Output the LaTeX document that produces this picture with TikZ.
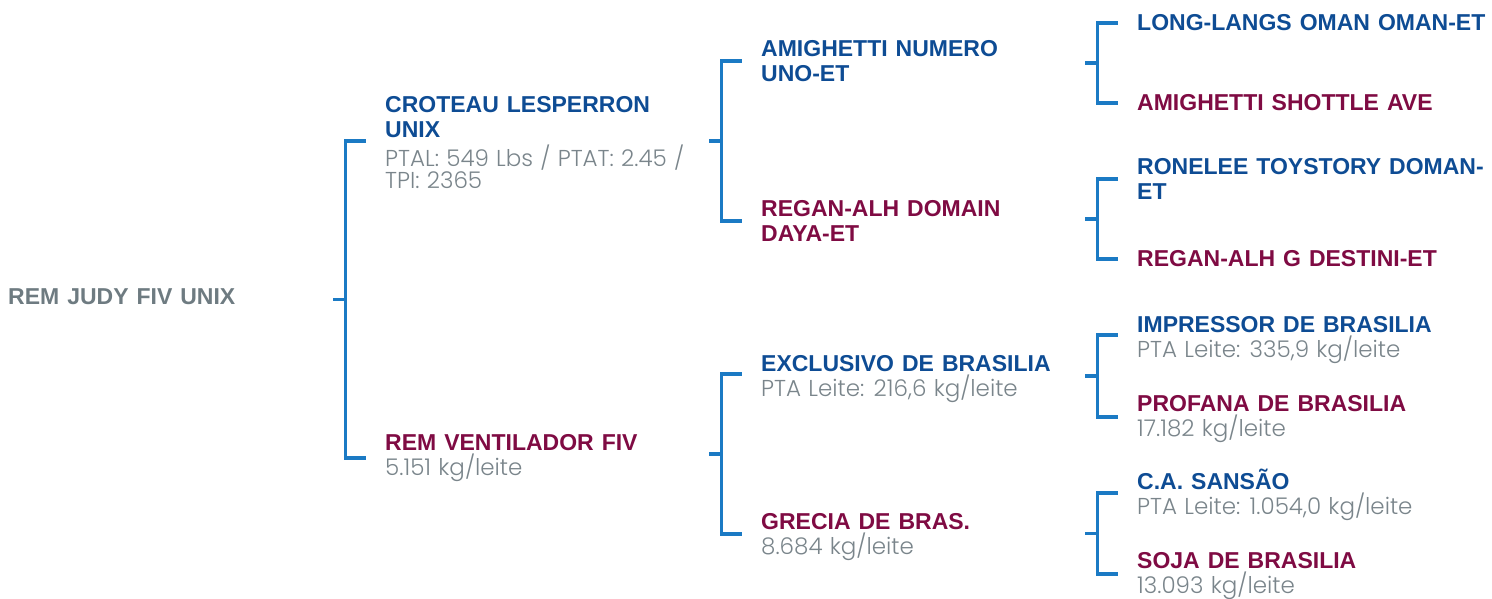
\documentclass[tikz,border=0pt]{standalone}
\usepackage{fontspec}
\usetikzlibrary{calc}
\newfontfamily\namefont{Liberation Sans}[WordSpace=1.25]
\newfontfamily\detfont{Poppins}[UprightFont={* Light},WordSpace=1.15]
\definecolor{nblue}{HTML}{0E4C94}
\definecolor{mred}{HTML}{7F0B43}
\definecolor{dgray}{HTML}{7A858B}
\definecolor{rgray}{HTML}{6E7B81}
\definecolor{brblue}{HTML}{1B7AC4}
\setlength{\parindent}{0pt}
\setlength{\parskip}{0pt}
\newcommand{\nmb}[1]{{\namefont\bfseries\fontsize{23}{25}\selectfont\spaceskip=0pt\xspaceskip=0pt\color{nblue}#1\par}}
\newcommand{\nmr}[1]{{\namefont\bfseries\fontsize{23}{25}\selectfont\spaceskip=0pt\xspaceskip=0pt\color{mred}#1\par}}
\newcommand{\dtl}[3][-5pt]{{\vskip#2\detfont\fontsize{23}{22}\selectfont\spaceskip=0pt\xspaceskip=0pt\color{dgray}#3\par\vskip#1}}
\begin{document}
\begin{tikzpicture}[x=1pt,y=-1pt,
  nd/.style={anchor=west,inner sep=0pt,text width=360pt,align=left},
  br/.style={draw=brblue,line width=3.8pt,line join=miter,line cap=butt}]
\useasboundingbox (0,0) rectangle (1492,598);
\node[nd] (r) at (8,297) {{\namefont\bfseries\fontsize{23}{25}\selectfont\spaceskip=0pt\xspaceskip=0pt\color{rgray}REM JUDY FIV UNIX\par}};
\node[nd] (a) at (385,141) {\nmb{CROTEAU LESPERRON\\UNIX}\dtl[-4pt]{7pt}{PTAL: 549 Lbs / PTAT: 2.45 /\\TPI: 2365}};
\node[nd] (b) at (385,458) {\nmr{REM VENTILADOR FIV}\dtl[-1pt]{3pt}{5.151 kg/leite}};
\node[nd] (aa) at (761,61) {\nmb{AMIGHETTI NUMERO\\UNO-ET}};
\node[nd] (ab) at (761,221) {\nmr{REGAN-ALH DOMAIN\\DAYA-ET}};
\node[nd] (ba) at (761,374) {\nmb{EXCLUSIVO DE BRASILIA}\dtl[-10pt]{3pt}{PTA Leite: 216,6 kg/leite}};
\node[nd] (bb) at (761,534) {\nmr{GRECIA DE BRAS.}\dtl[-6pt]{3pt}{8.684 kg/leite}};
\node[nd] (aaa) at (1137,23) {\nmb{LONG-LANGS OMAN OMAN-ET}};
\node[nd] (aab) at (1137,103) {\nmr{AMIGHETTI SHOTTLE AVE}};
\node[nd] (aba) at (1137,179) {\nmb{RONELEE TOYSTORY DOMAN-\\ET}};
\node[nd] (abb) at (1137,259) {\nmr{REGAN-ALH G DESTINI-ET}};
\node[nd] (baa) at (1137,335) {\nmb{IMPRESSOR DE BRASILIA}\dtl[-10pt]{3pt}{PTA Leite: 335,9 kg/leite}};
\node[nd] (bab) at (1137,417) {\nmr{PROFANA DE BRASILIA}\dtl[-4pt]{3pt}{17.182 kg/leite}};
\node[nd] (bba) at (1137,493) {\nmb{C.A. SANSÃO}\dtl[-4pt]{3pt}{PTA Leite: 1.054,0 kg/leite}};
\node[nd] (bbb) at (1137,574) {\nmr{SOJA DE BRASILIA}\dtl[-4pt]{3pt}{13.093 kg/leite}};
\foreach \p/\c/\d in {r/a/b, a/aa/ab, b/ba/bb, aa/aaa/aab, ab/aba/abb, ba/baa/bab, bb/bba/bbb}{
  \draw[br] ([xshift=-19.5pt]\c.west) -| ($(\d.west)+(-39.5pt,0)$) -- ([xshift=-19.5pt]\d.west);
  \draw[br] ($(\c.west)!0.5!(\d.west)+(-39.5pt,0)$) -- ++(-13pt,0);
}
\end{tikzpicture}
\end{document}
